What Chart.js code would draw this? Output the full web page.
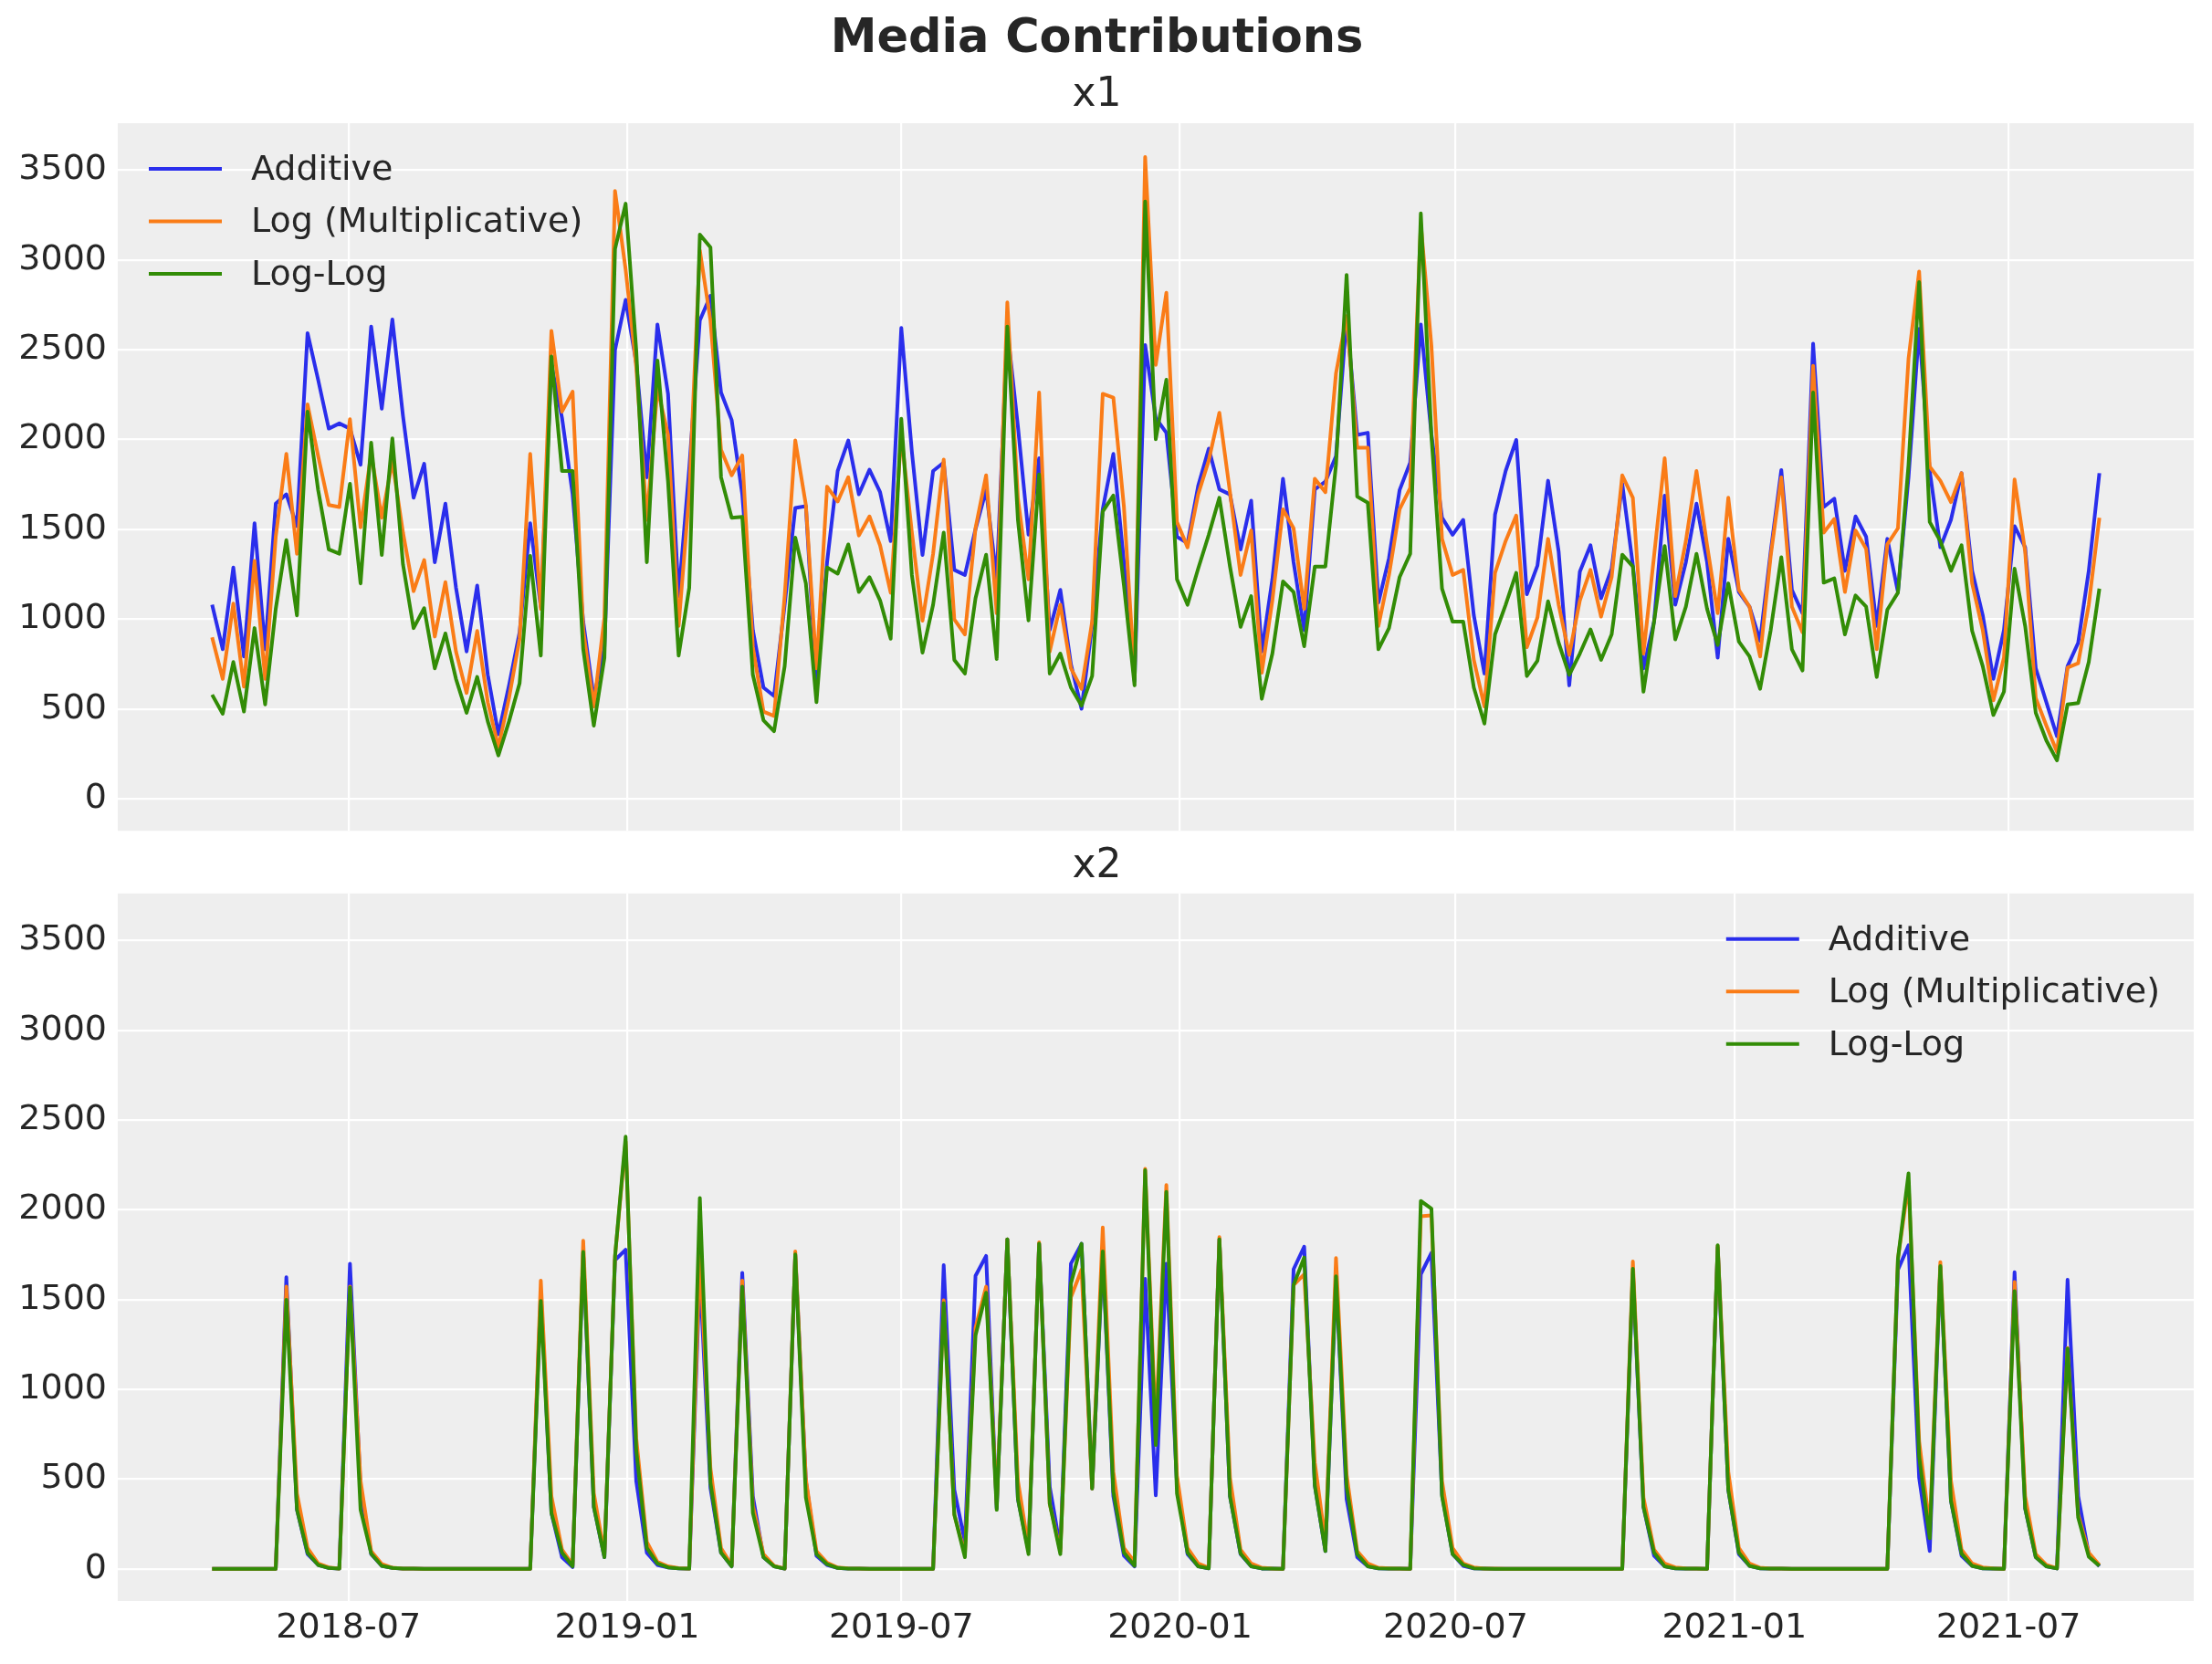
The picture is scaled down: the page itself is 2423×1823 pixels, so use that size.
<!DOCTYPE html>
<html>
<head>
<meta charset="utf-8">
<script src="https://cdn.jsdelivr.net/npm/chart.js@4.4.1/dist/chart.umd.min.js"></script>
<style>
html, body { margin: 0; padding: 0; background: #ffffff; }
body { width: 2423px; height: 1823px; position: relative; overflow: hidden; }
canvas { position: absolute; left: 0; }
#c1 { top: 0px; }
#c2 { top: 900px; }
</style>
</head>
<body>
<canvas id="c1" width="2423" height="945"></canvas>
<canvas id="c2" width="2423" height="923"></canvas>
<script>
// ---------------- data ----------------
const START_DATE = '2018-04-02';           // first week (weekly series)
const SERIES_NAMES = ['Additive', 'Log (Multiplicative)', 'Log-Log'];
const X_TICK_LABELS = ['2018-07', '2019-01', '2019-07', '2020-01', '2020-07', '2021-01', '2021-07'];
const Y_TICKS = [0, 500, 1000, 1500, 2000, 2500, 3000, 3500];

const x1_additive = [
  1080, 832, 1288, 792, 1534, 832, 1643, 1695, 1518, 2593,
  2333, 2061, 2090, 2061, 1860, 2629, 2172, 2669, 2132, 1676,
  1865, 1317, 1643, 1175, 820, 1187, 690, 359, 631, 927,
  1534, 1069, 2416, 2121, 1695, 986, 560, 844, 2499, 2778,
  2428, 1790, 2641, 2255, 1128, 1840, 2664, 2801, 2262, 2109,
  1695, 939, 619, 572, 1080, 1619, 1629, 631, 1317, 1825,
  1995, 1695, 1832, 1707, 1435, 2622, 1931, 1357, 1825, 1872,
  1274, 1246, 1501, 1719, 1222, 2617, 2073, 1470, 1896, 939,
  1163, 749, 501, 962, 1612, 1920, 1317, 655, 2527, 2120,
  2038, 1459, 1423, 1742, 1950, 1723, 1695, 1388, 1660, 820,
  1222, 1782, 1317, 939, 1723, 1766, 1908, 2680, 2026, 2038,
  1092, 1340, 1719, 1872, 2641, 2030, 1565, 1470, 1553, 1021,
  697, 1582, 1825, 1998, 1139, 1298, 1771, 1376, 631, 1265,
  1411, 1116, 1281, 1754, 1300, 726, 986, 1688, 1080, 1317,
  1643, 1317, 785, 1447, 1151, 1069, 879, 1376, 1830, 1163,
  1033, 2534, 1624, 1671, 1269, 1572, 1459, 962, 1447, 1151,
  1790, 2617, 1825, 1400, 1553, 1813, 1269, 1021, 667, 939,
  1518, 1400, 726, 537, 348, 738, 868, 1269, 1813
];
const x1_log = [
  898, 667, 1087, 624, 1324, 667, 1459, 1920, 1364, 2196,
  1908, 1636, 1624, 2113, 1511, 1920, 1565, 1879, 1482, 1156,
  1329, 903, 1206, 820, 589, 934, 537, 288, 560, 891,
  1920, 1057, 2605, 2156, 2267, 939, 513, 1009, 3385, 2948,
  2404, 1553, 2286, 2026, 962, 1700, 3054, 2664, 1943, 1801,
  1912, 844, 485, 461, 1128, 1995, 1636, 726, 1738, 1655,
  1790, 1466, 1572, 1411, 1147, 2026, 1482, 991, 1364, 1889,
  998, 915, 1506, 1801, 1033, 2764, 1671, 1222, 2262, 820,
  1080, 726, 612, 986, 2255, 2234, 1624, 678, 3574, 2416,
  2818, 1541, 1400, 1695, 1884, 2149, 1707, 1246, 1494, 702,
  1104, 1612, 1506, 1057, 1782, 1707, 2369, 2688, 1955, 1955,
  962, 1246, 1612, 1730, 3200, 2522, 1447, 1246, 1274, 773,
  513, 1258, 1435, 1577, 844, 1009, 1447, 1080, 801, 1104,
  1274, 1014, 1234, 1801, 1676, 808, 1352, 1896, 1128, 1435,
  1825, 1411, 1033, 1676, 1163, 1069, 792, 1352, 1790, 1069,
  927, 2411, 1482, 1558, 1151, 1494, 1392, 832, 1416, 1506,
  2451, 2936, 1849, 1771, 1652, 1813, 1199, 939, 548, 785,
  1778, 1376, 560, 407, 260, 730, 754, 1080, 1565
];
const x1_loglog = [
  579, 473, 761, 485, 950, 525, 1057, 1440, 1021, 2156,
  1719, 1388, 1364, 1754, 1199, 1983, 1357, 2007, 1305, 950,
  1061, 726, 920, 667, 478, 678, 430, 241, 430, 643,
  1352, 797, 2463, 1825, 1825, 832, 407, 785, 3061, 3314,
  2499, 1317, 2440, 1766, 797, 1175, 3142, 3071, 1790, 1565,
  1570, 690, 437, 376, 738, 1454, 1199, 537, 1288, 1253,
  1416, 1151, 1234, 1104, 891, 2116, 1246, 813, 1080, 1482,
  773, 697, 1116, 1359, 778, 2629, 1553, 993, 1806, 697,
  808, 619, 518, 683, 1600, 1688, 1187, 631, 3326, 2002,
  2333, 1222, 1080, 1281, 1470, 1676, 1293, 957, 1128, 556,
  808, 1210, 1151, 849, 1293, 1293, 1860, 2917, 1683, 1648,
  832, 950, 1234, 1364, 3260, 2020, 1170, 986, 986, 619,
  418, 915, 1080, 1258, 683, 768, 1099, 868, 690, 808,
  943, 773, 915, 1359, 1293, 596, 986, 1407, 887, 1069,
  1364, 1057, 856, 1199, 875, 792, 612, 939, 1345, 832,
  714, 2262, 1203, 1227, 915, 1132, 1069, 678, 1052, 1147,
  1860, 2877, 1541, 1435, 1269, 1411, 934, 738, 466, 596,
  1281, 962, 478, 324, 213, 525, 532, 761, 1170
];
const x2_additive = [
  0, 0, 0, 0, 0, 0, 0, 1624, 330, 82,
  22, 5, 2, 1700, 448, 82, 17, 5, 2, 1,
  0, 0, 0, 0, 0, 0, 0, 0, 0, 0,
  0, 1540, 312, 65, 10, 1760, 346, 65, 1720, 1778,
  490, 90, 22, 8, 3, 1, 1650, 450, 90, 14,
  1649, 405, 65, 14, 1, 1750, 490, 73, 22, 5,
  2, 1, 0, 0, 0, 0, 0, 0, 0, 1692,
  440, 150, 1632, 1743, 337, 1836, 388, 99, 1811, 457,
  116, 1700, 1811, 448, 1751, 405, 73, 14, 1615, 410,
  1700, 470, 82, 14, 3, 1836, 405, 82, 14, 2,
  1, 0, 1669, 1794, 465, 99, 1620, 388, 65, 14,
  3, 2, 1, 0, 1641, 1760, 414, 82, 17, 3,
  1, 0, 0, 0, 0, 0, 0, 0, 0, 0,
  0, 0, 0, 0, 1650, 346, 73, 14, 3, 2,
  1, 0, 1790, 440, 82, 17, 3, 2, 1, 0,
  0, 0, 0, 0, 0, 0, 0, 0, 0, 1666,
  1802, 508, 100, 1680, 380, 73, 17, 3, 2, 0,
  1652, 337, 65, 14, 2, 1610, 405, 82, 14
];
const x2_log = [
  0, 0, 0, 0, 0, 0, 0, 1572, 420, 116,
  30, 8, 2, 1572, 490, 99, 27, 6, 2, 1,
  0, 0, 0, 0, 0, 0, 0, 0, 0, 0,
  0, 1606, 405, 107, 22, 1828, 422, 82, 1740, 2380,
  729, 150, 39, 14, 4, 1, 1750, 560, 116, 20,
  1606, 354, 82, 17, 2, 1768, 499, 99, 34, 8,
  3, 1, 0, 0, 0, 0, 0, 0, 0, 1496,
  303, 82, 1342, 1572, 360, 1836, 490, 116, 1819, 363,
  99, 1513, 1666, 448, 1901, 542, 116, 39, 2228, 790,
  2138, 520, 116, 30, 6, 1848, 508, 107, 30, 6,
  2, 0, 1581, 1640, 593, 150, 1731, 525, 99, 30,
  6, 3, 1, 0, 1964, 1969, 490, 116, 30, 8,
  2, 1, 0, 0, 0, 0, 0, 0, 0, 0,
  0, 0, 0, 0, 1712, 397, 107, 30, 8, 3,
  1, 0, 1800, 542, 116, 30, 6, 2, 1, 0,
  0, 0, 0, 0, 0, 0, 0, 0, 0, 1726,
  2150, 712, 230, 1709, 490, 107, 30, 8, 3, 0,
  1598, 405, 82, 22, 3, 1230, 303, 90, 22
];
const x2_loglog = [
  0, 0, 0, 0, 0, 0, 0, 1499, 330, 90,
  22, 5, 2, 1567, 329, 85, 17, 5, 2, 1,
  0, 0, 0, 0, 0, 0, 0, 0, 0, 0,
  0, 1492, 312, 90, 14, 1765, 346, 65, 1740, 2407,
  661, 116, 30, 8, 3, 1, 2066, 480, 90, 14,
  1572, 312, 65, 14, 1, 1751, 397, 82, 26, 5,
  2, 1, 0, 0, 0, 0, 0, 0, 0, 1479,
  303, 65, 1300, 1538, 329, 1836, 388, 82, 1811, 363,
  82, 1589, 1811, 448, 1768, 431, 90, 17, 2220, 690,
  2100, 420, 90, 14, 3, 1836, 405, 85, 14, 2,
  1, 0, 1581, 1734, 465, 99, 1629, 457, 82, 14,
  3, 2, 1, 0, 2049, 2007, 405, 82, 22, 3,
  1, 0, 0, 0, 0, 0, 0, 0, 0, 0,
  0, 0, 0, 0, 1671, 346, 90, 14, 3, 2,
  1, 0, 1802, 440, 90, 17, 3, 2, 1, 0,
  0, 0, 0, 0, 0, 0, 0, 0, 0, 1726,
  2203, 627, 170, 1687, 380, 85, 17, 3, 2, 0,
  1547, 337, 65, 14, 2, 1227, 286, 68, 17
];

// ---------------- styling ----------------
const FONT = 'DejaVu Sans';
const TEXT_COLOR = '#262626';
const COLORS = ['#2a2eec', '#fa7c17', '#328c06'];
const PLOT_BG = '#eeeeee';
const Y_MIN = -179, Y_MAX = 3762;

Chart.defaults.font.family = FONT;
Chart.defaults.color = TEXT_COLOR;

const DAY = 86400000;
const t0 = Date.parse(START_DATE + 'T00:00:00Z');
const DATES = x1_additive.map((_, i) => t0 + i * 7 * DAY);
const X_PAD = (DATES[DATES.length - 1] - DATES[0]) * 0.05;
const X_MIN = DATES[0] - X_PAD, X_MAX = DATES[DATES.length - 1] + X_PAD;
const X_TICK_VALUES = X_TICK_LABELS.map(s => Date.parse(s + '-01T00:00:00Z'));

const bgPlugin = {
  id: 'plotBg',
  beforeDraw(chart) {
    const { ctx, chartArea: a } = chart;
    ctx.save();
    ctx.fillStyle = PLOT_BG;
    ctx.fillRect(a.left, a.top, a.right - a.left, a.bottom - a.top);
    ctx.restore();
  }
};

const legendPlugin = {
  id: 'cornerLegend',
  afterDatasetsDraw(chart, args, opts) {
    const { ctx, chartArea: a } = chart;
    const fs = 38, handle = 80, gap = 32;
    ctx.save();
    ctx.font = fs + 'px "' + FONT + '"';
    const items = chart.data.datasets.map(d => ({ label: d.label, color: d.borderColor }));
    const maxW = Math.max(...items.map(it => ctx.measureText(it.label).width));
    const x0 = opts.corner === 'right' ? a.right - 37 - maxW - handle - gap : a.left + 34;
    items.forEach((it, k) => {
      const y = a.top + 50 + k * 57.5;
      ctx.strokeStyle = it.color;
      ctx.lineWidth = 4;
      ctx.lineCap = 'butt';
      ctx.beginPath();
      ctx.moveTo(x0, y);
      ctx.lineTo(x0 + handle, y);
      ctx.stroke();
      ctx.fillStyle = TEXT_COLOR;
      ctx.textBaseline = 'middle';
      ctx.textAlign = 'left';
      ctx.fillText(it.label, x0 + handle + gap, y + 2);
    });
    ctx.restore();
  }
};

function makeDatasets(seriesList) {
  return seriesList.map((vals, k) => ({
    label: SERIES_NAMES[k],
    data: DATES.map((d, i) => ({ x: d, y: vals[i] })),
    borderColor: COLORS[k],
    backgroundColor: COLORS[k],
    borderWidth: 4,
    pointRadius: 0,
    pointHoverRadius: 0,
    tension: 0,
    fill: false,
    borderJoinStyle: 'round',
    order: 3 - k
  }));
}

function makeOptions(isTop) {
  const gridOpts = { color: '#ffffff', lineWidth: 2.2, drawTicks: false };
  return {
    responsive: false,
    animation: false,
    events: [],
    layout: { padding: { left: 0, right: 20, top: 0, bottom: 0 } },
    plugins: {
      legend: { display: false },
      tooltip: { enabled: false },
      title: isTop
        ? { display: true, text: 'Media Contributions', color: TEXT_COLOR,
            font: { family: FONT, size: 51, weight: 'bold', lineHeight: 1.2 },
            padding: { top: 13, bottom: 0 } }
        : { display: true, text: 'x2', color: TEXT_COLOR,
            font: { family: FONT, size: 44, weight: 'normal', lineHeight: 1.2 },
            padding: { top: 23, bottom: 3 } },
      subtitle: isTop
        ? { display: true, text: 'x1', color: TEXT_COLOR,
            font: { family: FONT, size: 44, weight: 'normal', lineHeight: 1.2 },
            padding: { top: 4, bottom: 4 } }
        : { display: false },
      cornerLegend: { corner: isTop ? 'left' : 'right' }
    },
    scales: {
      x: {
        type: 'linear',
        min: X_MIN,
        max: X_MAX,
        afterBuildTicks: s => { s.ticks = X_TICK_VALUES.map(v => ({ value: v })); },
        afterFit: s => { s.height = isTop ? 34 : 69; },
        grid: gridOpts,
        border: { display: false },
        ticks: {
          display: !isTop,
          autoSkip: false,
          maxRotation: 0,
          padding: 7,
          color: TEXT_COLOR,
          font: { family: FONT, size: 38 },
          callback: v => {
            const i = X_TICK_VALUES.indexOf(v);
            return i >= 0 ? X_TICK_LABELS[i] : '';
          }
        }
      },
      y: {
        type: 'linear',
        min: Y_MIN,
        max: Y_MAX,
        afterBuildTicks: s => { s.ticks = Y_TICKS.map(v => ({ value: v })); },
        afterFit: s => { s.width = 129; },
        grid: gridOpts,
        border: { display: false },
        ticks: {
          padding: 12,
          color: TEXT_COLOR,
          font: { family: FONT, size: 38 },
          callback: v => String(v)
        }
      }
    }
  };
}

new Chart(document.getElementById('c1'), {
  type: 'line',
  data: { datasets: makeDatasets([x1_additive, x1_log, x1_loglog]) },
  options: makeOptions(true),
  plugins: [bgPlugin, legendPlugin]
});

new Chart(document.getElementById('c2'), {
  type: 'line',
  data: { datasets: makeDatasets([x2_additive, x2_log, x2_loglog]) },
  options: makeOptions(false),
  plugins: [bgPlugin, legendPlugin]
});
</script>
</body>
</html>
